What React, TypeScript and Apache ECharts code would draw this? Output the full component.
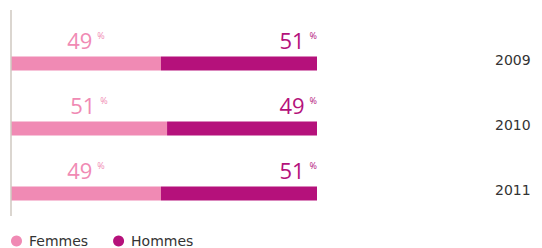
import React, { useEffect, useRef } from "react";
import * as echarts from "echarts";

const years = ["2009", "2010", "2011"];
const femmes = [49, 51, 49];
const hommes = [51, 49, 51];
const seriesNames = ["Femmes", "Hommes"];

const PINK = "#f08ab4";
const MAGENTA = "#b5117b";

export default function App() {
  const ref = useRef<HTMLDivElement>(null);
  useEffect(() => {
    if (!ref.current) return;
    const chart = echarts.init(ref.current, null, { renderer: "svg" });
    const labelRich = (color: string) => ({
      v: { fontSize: 22, lineHeight: 22, color, fontFamily: "Open Sans", fontWeight: "normal" },
      p: { fontSize: 9, lineHeight: 9, color, fontFamily: "Open Sans", verticalAlign: "top" as any, padding: [2, 0, 0, 5] },
    });
    chart.setOption({
      animation: false,
      grid: { left: 11, right: 225, top: 31, bottom: 22 },
      xAxis: { type: "value", min: 0, max: 100, show: false },
      yAxis: {
        type: "category",
        data: years,
        inverse: true,
        position: "right",
        axisLine: { show: false },
        axisTick: { show: false },
        splitLine: { show: false },
        axisLabel: {
          margin: 178,
          align: "left",
          verticalAlign: "bottom",
          lineHeight: 8,
          fontSize: 14,
          color: "#333",
          fontFamily: "DejaVu Sans",
        },
      },
      legend: {
        left: 6,
        top: 229,
        icon: "circle",
        itemWidth: 11,
        itemHeight: 11,
        itemGap: 25,
        textStyle: { fontSize: 14, color: "#333", fontFamily: "DejaVu Sans", padding: [0, 0, 0, 2] },
        data: seriesNames,
      },
      graphic: [
        {
          type: "line",
          shape: { x1: 11, y1: 10, x2: 11, y2: 216 },
          style: { stroke: "#cfc8c0", lineWidth: 1.5 },
          z: 10,
        },
      ],
      series: [
        {
          name: seriesNames[0],
          type: "bar",
          stack: "t",
          data: femmes,
          barWidth: 14,
          itemStyle: { color: PINK },
          label: {
            show: true,
            position: "top",
            distance: 6,
            formatter: (p: any) => `{v|${p.value}}{p|%}`,
            rich: labelRich(PINK),
          },
        },
        {
          name: seriesNames[1],
          type: "bar",
          stack: "t",
          data: hommes,
          barWidth: 14,
          itemStyle: { color: MAGENTA },
          label: {
            show: true,
            position: ["100%", -6],
            align: "right",
            verticalAlign: "bottom",
            formatter: (p: any) => `{v|${p.value}}{p|%}`,
            rich: labelRich(MAGENTA),
          },
        },
      ],
    });
    return () => chart.dispose();
  }, []);
  return <div ref={ref} style={{ width: 542, height: 248, position: "absolute", left: 0, top: 0 }} />;
}
